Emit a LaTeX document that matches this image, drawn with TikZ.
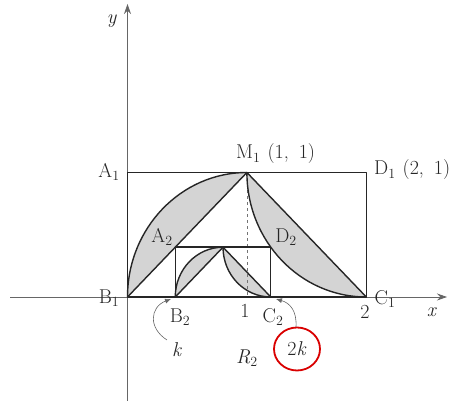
\documentclass[tikz,border=0pt]{standalone}
\usepackage{fontspec}
\usetikzlibrary{arrows.meta}
\newcommand{\lab}[2]{#1\textsubscript{#2}}
\newcommand{\pt}[2]{\hspace{7pt}(#1,\hspace{10pt}#2)}
\begin{document}
\begin{tikzpicture}[x=1pt,y=1pt,
  lbl/.style={font=\fontsize{20}{23}\selectfont, inner sep=0pt, text=black!85},
  edge/.style={line width=1.4pt, draw=black!85, line join=round},
  axisline/.style={line width=0.8pt, draw=black!60, -{Stealth[length=10pt,width=7pt]}},
  shade/.style={fill=black!17},
  pointer/.style={line width=0.6pt, draw=black!60, -{Latex[length=6pt,width=5pt]}}]
\useasboundingbox (0,0) rectangle (460,403);
% axes
\coordinate (xs) at (10,106);
\coordinate (xe) at (447,106);
\coordinate (ys) at (127.5,2);
\coordinate (ye) at (127.5,399);
\draw[axisline] (xs) -- (xe);
\draw[axisline] (ys) -- (ye);
\begin{scope}[shift={(127.5,106)}, x=119.4pt, y=124.5pt]
  \coordinate (B1) at (0,0);
  \coordinate (C1) at (2,0);
  \coordinate (D1) at (2,1);
  \coordinate (A1) at (0,1);
  \coordinate (M1) at (1,1);
  \coordinate (F1) at (1,0);
  \coordinate (B2) at (0.4,0);
  \coordinate (C2) at (1.2,0);
  \coordinate (D2) at (1.2,0.4);
  \coordinate (A2) at (0.4,0.4);
  \coordinate (M2) at (0.8,0.4);
  % shaded lenses
  \fill[shade] (B1) arc[start angle=180,end angle=90,radius=1] -- cycle;
  \fill[shade] (M1) arc[start angle=180,end angle=270,radius=1] -- cycle;
  \fill[shade] (B2) arc[start angle=180,end angle=90,radius=0.4] -- cycle;
  \fill[shade] (M2) arc[start angle=180,end angle=270,radius=0.4] -- cycle;
  % dashed
  \draw[dashed, line width=0.6pt, black!55] (M1) -- (F1);
  % outlines
  \draw[edge] (B1) rectangle (D1);
  \draw[edge] (B2) rectangle (D2);
  \draw[edge] (B1) -- (M1) -- (C1);
  \draw[edge] (B2) -- (M2) -- (C2);
  \draw[edge] (B1) arc[start angle=180,end angle=90,radius=1];
  \draw[edge] (M1) arc[start angle=180,end angle=270,radius=1];
  \draw[edge] (B2) arc[start angle=180,end angle=90,radius=0.4];
  \draw[edge] (M2) arc[start angle=180,end angle=270,radius=0.4];
\end{scope}
% labels
\node[lbl] (ylab) at (112,382) {\textit{y}};
\node[lbl] (xlab) at (432,91) {\textit{x}};
\node[lbl] (lA1) at (109,231) {\lab{A}{1}};
\node[lbl] (lB1) at (109,105) {\lab{B}{1}};
\node[lbl] (lC1) at (385,104) {\lab{C}{1}};
\node[lbl, anchor=west] (lD1) at (374,233) {\lab{D}{1}\pt{2}{1}};
\node[lbl, anchor=west] (lM1) at (236,249) {\lab{M}{1}\pt{1}{1}};
\node[lbl] (lA2) at (162,166) {\lab{A}{2}};
\node[lbl] (lD2) at (286,166) {\lab{D}{2}};
\node[lbl] (lB2) at (180,86) {\lab{B}{2}};
\node[lbl] (lC2) at (273,86) {\lab{C}{2}};
\node[lbl] (one) at (245,92) {1};
\node[lbl] (two) at (365,91) {2};
\node[lbl] (k) at (177,53) {\textit{k}};
\node[lbl] (R2) at (247,45) {\textit{R}\textsubscript{2}};
\node[lbl] (twok) at (297,54) {2\textit{k}};
\draw[red!85!black, line width=1.8pt] (twok.center) ellipse[x radius=23, y radius=21.5];
% pointers
\coordinate (kstart) at (167,63);
\coordinate (ktip) at (171,104);
\coordinate (tstart) at (296,76);
\coordinate (ttip) at (276,104);
\draw[pointer] (kstart) .. controls (148,75) and (150,96) .. (ktip);
\draw[pointer] (tstart) .. controls (297,92) and (290,100) .. (ttip);
\end{tikzpicture}
\end{document}
